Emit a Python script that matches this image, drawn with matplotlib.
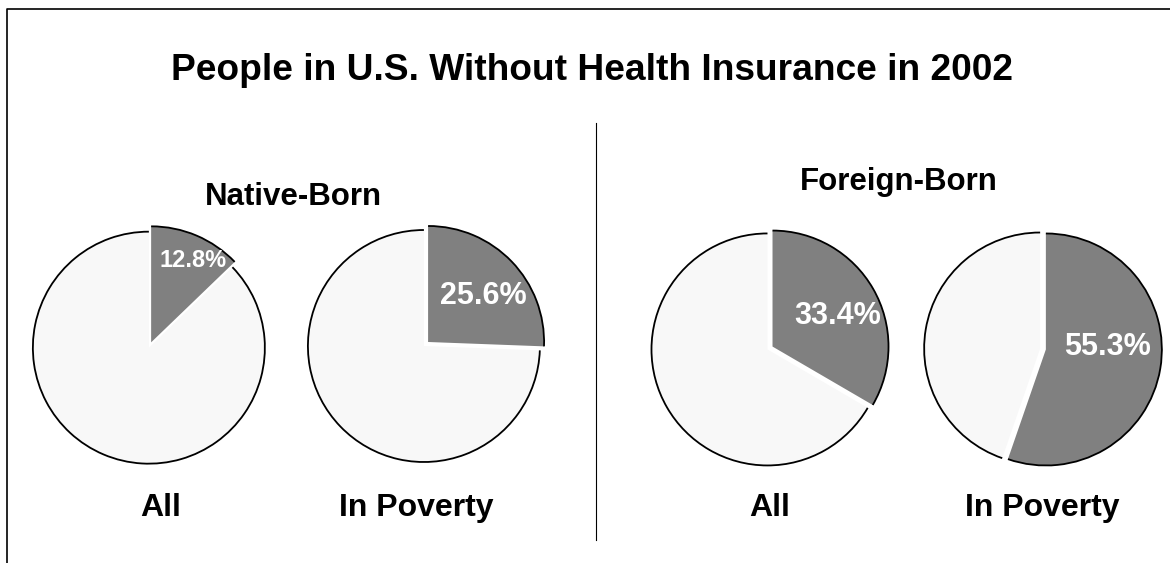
import matplotlib
matplotlib.use('Agg')
import matplotlib.pyplot as plt
from matplotlib.patches import Arc
from matplotlib.lines import Line2D

plt.rcParams['font.family'] = ['Liberation Sans', 'DejaVu Sans']
plt.rcParams['font.weight'] = 'bold'

title = 'People in U.S. Without Health Insurance in 2002'
groups = ['Native-Born', 'Foreign-Born']
pie_labels = ['All', 'In Poverty', 'All', 'In Poverty']
uninsured = [12.8, 25.6, 33.4, 55.3]

W, H = 1170, 563
GRAY = '#808080'
LIGHT = '#f8f8f8'

# pie centres in pixels (from top-left), radius in pixels
centers = [(150, 345), (426, 344), (770, 348), (1043, 349)]
radius = 116
# percentage label positions, in pie radii from the centre
pct_pos = [(0.37, 0.73), (0.49, 0.41), (0.58, 0.28), (0.56, 0.02)]
pct_size = [17, 22, 22, 22]
label_x = [161, 416, 770, 1042]
group_x = [293, 899]
group_base = [205, 190]
LIM = 1.2

fig = plt.figure(figsize=(W / 100, H / 100), dpi=100)


def px_axes(cx, cy, r):
    half = r * LIM
    return fig.add_axes([(cx - half) / W, 1 - (cy + half) / H,
                         2 * half / W, 2 * half / H])


for i, val in enumerate(uninsured):
    cx, cy = centers[i]
    ax = px_axes(cx, cy, radius)
    wedges, _, autotexts = ax.pie(
        [val, 100 - val], colors=[GRAY, LIGHT], startangle=90,
        counterclock=False, explode=(0.025, 0.025), autopct='%.1f%%',
        textprops=dict(color='white', fontsize=pct_size[i], fontweight='bold'),
        wedgeprops=dict(linewidth=0))
    autotexts[0].set_position(pct_pos[i])
    autotexts[1].set_visible(False)
    # black outline only on the outer arc of each slice
    for w in wedges:
        ax.add_patch(Arc(w.center, 2 * w.r, 2 * w.r, theta1=w.theta1,
                         theta2=w.theta2, color='black', linewidth=1.3))
    ax.set_xlim(-LIM, LIM)
    ax.set_ylim(-LIM, LIM)
    ax.set_aspect('equal')
    fig.text(label_x[i] / W, 1 - 516 / H, pie_labels[i], ha='center',
             va='baseline', fontsize=23, fontweight='bold')

fig.text(592 / W, 1 - 80 / H, title, ha='center', va='baseline',
         fontsize=26.7, fontweight='bold')
for g, gx, gy in zip(groups, group_x, group_base):
    fig.text(gx / W, 1 - gy / H, g, ha='center', va='baseline',
             fontsize=22.5, fontweight='bold')

# divider between the two groups
fig.add_artist(Line2D([596 / W, 596 / W], [1 - 123 / H, 1 - 540 / H],
                      color='black', linewidth=0.8))
# outer frame (left and top edges visible)
fig.add_artist(Line2D([7 / W, 7 / W, 1.0], [0.0, 1 - 9 / H, 1 - 9 / H],
                      color='black', linewidth=1.2))

fig.savefig('out.png', dpi=100)
